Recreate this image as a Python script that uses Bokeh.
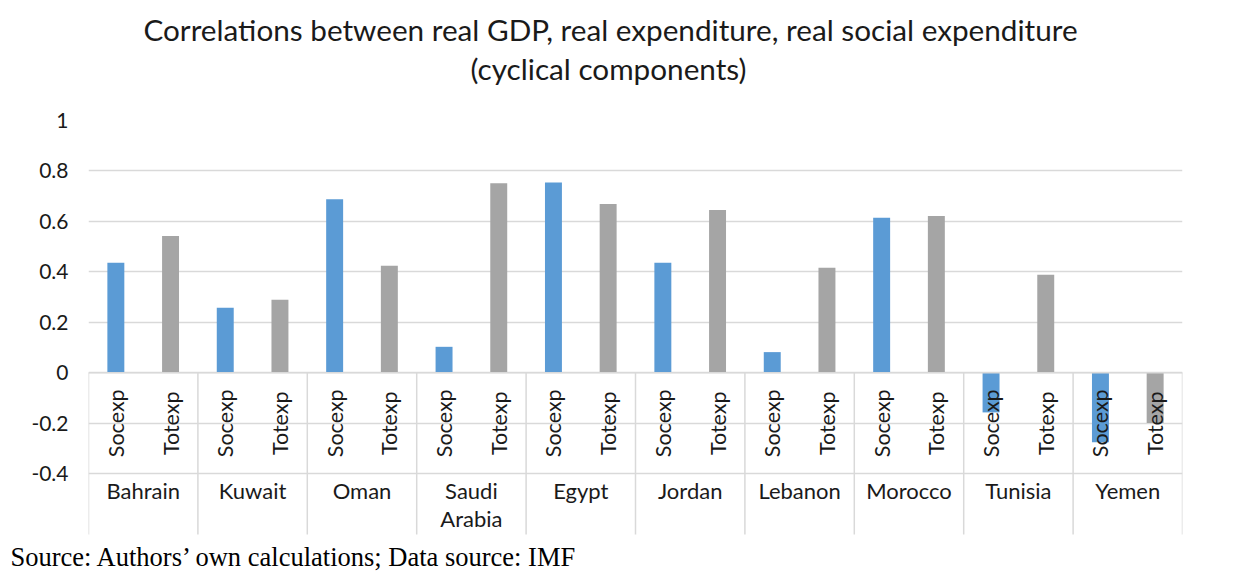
from bokeh.plotting import figure
from bokeh.models import Range1d, FixedTicker, Title
from bokeh.core.properties import value
from bokeh.embed import file_html
from bokeh.resources import INLINE
import math

countries = ["Bahrain", "Kuwait", "Oman", "Saudi\nArabia", "Egypt", "Jordan",
             "Lebanon", "Morocco", "Tunisia", "Yemen"]
series_names = ["Socexp", "Totexp"]
socexp = [0.436, 0.258, 0.688, 0.103, 0.754, 0.436, 0.082, 0.615, -0.157, -0.275]
totexp = [0.542, 0.290, 0.424, 0.751, 0.669, 0.645, 0.416, 0.621, 0.389, -0.199]
y_ticks = [-0.4, -0.2, 0, 0.2, 0.4, 0.6, 0.8, 1]
y_tick_labels = ["-0.4", "-0.2", "0", "0.2", "0.4", "0.6", "0.8", "1"]

title_1 = "Correlations between real GDP, real expenditure, real social expenditure"
title_2 = "(cyclical components)"
source_note = "Source: Authors\u2019 own calculations; Data source: IMF"

BLUE = "#5B9BD5"
GREY = "#A5A5A5"
GRID = "#D9D9D9"
FONT = "Lato"
TXT = "#1a1a1a"

n = len(countries)
table_bottom = -0.641
y_bottom = -0.6607

p = figure(width=1242, height=571, output_backend="svg", toolbar_location=None,
           x_range=Range1d(0, 2 * n), y_range=Range1d(y_bottom, 1.0),
           min_border_left=88, min_border_right=60, min_border_top=120,
           min_border_bottom=30, title_location=None)
p.outline_line_color = None
p.background_fill_color = "white"
p.border_fill_color = "white"
p.xaxis.visible = False
p.xgrid.visible = False

ticker = FixedTicker(ticks=y_ticks)
p.yaxis.ticker = ticker
p.yaxis.axis_line_color = None
p.yaxis.major_tick_line_color = None
p.yaxis.minor_tick_line_color = None
p.yaxis.major_tick_out = 0
p.yaxis.major_tick_in = 0
p.yaxis.major_label_standoff = 20
p.yaxis.major_label_text_font = FONT
p.yaxis.major_label_text_font_size = "21px"
p.yaxis.major_label_text_color = TXT
p.yaxis.major_label_overrides = {t: l for t, l in zip(y_ticks, y_tick_labels)}
p.ygrid.ticker = ticker
p.ygrid.grid_line_color = GRID
p.ygrid.grid_line_width = 1.5

# bars
soc_x = [2 * i + 0.5 for i in range(n)]
tot_x = [2 * i + 1.5 for i in range(n)]
p.vbar(x=soc_x, top=socexp, bottom=0, width=0.31, fill_color=BLUE, line_color=None)
p.vbar(x=tot_x, top=totexp, bottom=0, width=0.31, fill_color=GREY, line_color=None)

# category table separators
bounds = [2 * i for i in range(n + 1)]
p.segment(x0=bounds, x1=bounds, y0=[0] * len(bounds), y1=[table_bottom] * len(bounds),
          line_color=GRID, line_width=1.5)
p.segment(x0=[0], x1=[2 * n], y0=[0], y1=[0], line_color=GRID, line_width=1.5)

# sub-category labels
sub_x = soc_x + tot_x
sub_t = [series_names[0]] * n + [series_names[1]] * n
p.text(x=sub_x, y=[-0.2] * len(sub_x), text=sub_t, angle=math.pi / 2,
       text_align="center", text_baseline="middle", text_font=value(FONT),
       text_font_size="21.5px", text_color=TXT)

# country labels
p.text(x=[2 * i + 1 for i in range(n)], y=[-0.412] * n, text=countries,
       text_align="center", text_baseline="top", text_font=value(FONT),
       text_font_size="22px", text_color=TXT, text_line_height=1.06)

# titles (first added is nearest the plot)
p.add_layout(Title(text=" ", align="left", text_font=FONT, text_font_size="20px",
                   standoff=8), "above")
p.add_layout(Title(text=title_2, align="left", offset=382, text_font=FONT,
                   text_font_size="29.7px", text_font_style="normal",
                   text_color=TXT, standoff=2), "above")
p.add_layout(Title(text=title_1, align="left", offset=55, text_font=FONT,
                   text_font_size="29.7px", text_font_style="normal",
                   text_color=TXT, standoff=2), "above")
p.add_layout(Title(text=source_note, align="left", offset=-78,
                   text_font="Liberation Serif", text_font_size="26.5px",
                   text_font_style="normal", text_color="black", standoff=0), "below")

open("out.html", "w").write(file_html(p, INLINE))
